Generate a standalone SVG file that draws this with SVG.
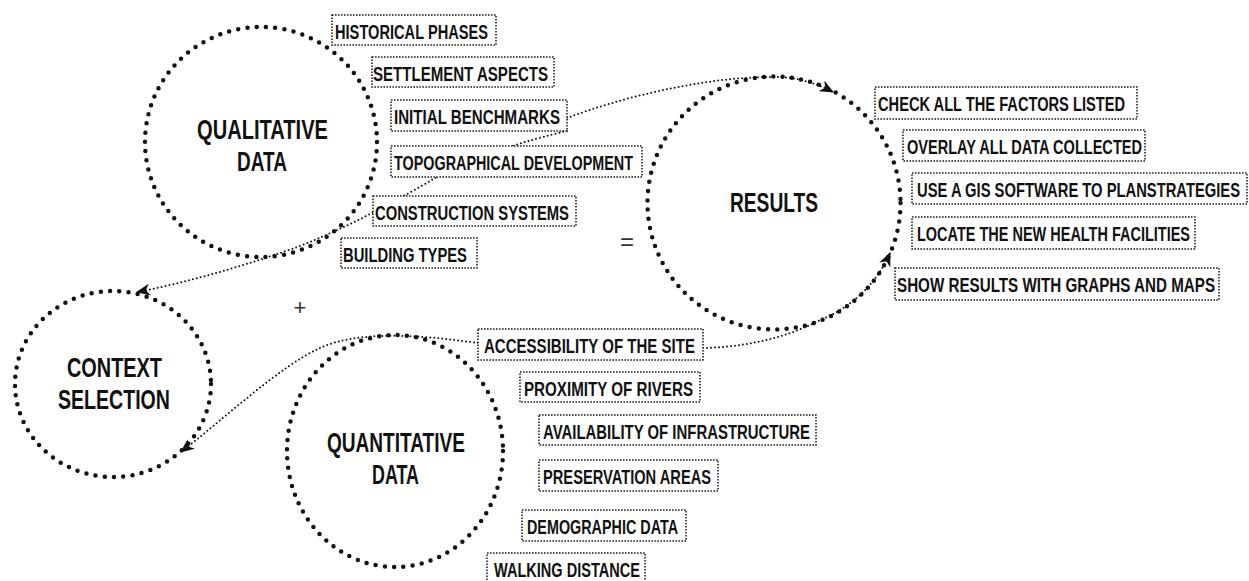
<svg xmlns="http://www.w3.org/2000/svg" width="1249" height="581" viewBox="0 0 1249 581">
<style>
.ring{fill:none;stroke:#111;stroke-width:4.5;stroke-linecap:round;stroke-dasharray:0 9.3}
.box{fill:#fff;stroke:#222;stroke-width:1.6;stroke-dasharray:1.6 1.4}
.lbl{font-family:'Liberation Sans','DejaVu Sans',sans-serif;font-weight:bold;font-size:20px;fill:#111}
.big{font-family:'Liberation Sans','DejaVu Sans',sans-serif;font-weight:bold;font-size:28px;fill:#111}
.conn{fill:none;stroke:#111;stroke-width:2;stroke-linecap:round;stroke-dasharray:0 4}
.sym{font-family:'Liberation Sans',sans-serif;fill:#333}
</style>
<defs>
<marker id="arr" markerUnits="userSpaceOnUse" markerWidth="16" markerHeight="12" refX="13" refY="6" orient="auto">
<path d="M0,0 L14,6 L0,12 L4,6 Z" fill="#111"/>
</marker>
</defs>
<g id="connectors">
<path class="conn" d="M567,131 C530,139 470,158 437,177 C400,198 360,222 300,246 C250,264 190,282 137,292" marker-end="url(#arr)"/>
<path class="conn" d="M567,118 C620,98 700,78 767,77 A126.5,126.5 0 0 1 833,92" marker-end="url(#arr)"/>
<path class="conn" d="M478,343 C420,335 360,330 320,348 C280,366 225,418 181,452" marker-end="url(#arr)"/>
<path class="conn" d="M703,348 C750,347 790,336 820,320 A126.5,126.5 0 0 0 890,253" marker-end="url(#arr)"/>
</g>
<g id="qualitative-data">
<ellipse class="ring" cx="261" cy="142" rx="116" ry="115"/>
<text class="big" transform="translate(197,139) scale(0.55,1)" textLength="238.2" lengthAdjust="spacingAndGlyphs">QUALITATIVE</text>
<text class="big" transform="translate(237,171) scale(0.55,1)" textLength="90.9" lengthAdjust="spacingAndGlyphs">DATA</text>
</g>
<g id="results">
<circle class="ring" cx="774" cy="203" r="126.5"/>
<text class="big" transform="translate(730,212) scale(0.55,1)" textLength="160" lengthAdjust="spacingAndGlyphs">RESULTS</text>
</g>
<g id="context-selection">
<ellipse class="ring" cx="113" cy="384" rx="98" ry="93"/>
<text class="big" transform="translate(67,377) scale(0.55,1)" textLength="172.7" lengthAdjust="spacingAndGlyphs">CONTEXT</text>
<text class="big" transform="translate(58,409) scale(0.55,1)" textLength="203.6" lengthAdjust="spacingAndGlyphs">SELECTION</text>
</g>
<g id="quantitative-data">
<ellipse class="ring" cx="395" cy="451" rx="108" ry="116"/>
<text class="big" transform="translate(327,452) scale(0.55,1)" textLength="250.9" lengthAdjust="spacingAndGlyphs">QUANTITATIVE</text>
<text class="big" transform="translate(372,484) scale(0.55,1)" textLength="85.5" lengthAdjust="spacingAndGlyphs">DATA</text>
</g>
<g id="plus"><text class="sym" x="300" y="315" font-size="22" text-anchor="middle">+</text></g>
<g id="equals"><text class="sym" x="627" y="250" font-size="24" text-anchor="middle">=</text></g>
<g id="l-historical"><rect class="box" x="332" y="15" width="164" height="30"/><text class="lbl" transform="translate(335,39) scale(0.63,1)" textLength="242.9" lengthAdjust="spacingAndGlyphs">HISTORICAL PHASES</text></g>
<g id="l-settlement"><rect class="box" x="372" y="57" width="182" height="30"/><text class="lbl" transform="translate(373,81) scale(0.63,1)" textLength="277.8" lengthAdjust="spacingAndGlyphs">SETTLEMENT ASPECTS</text></g>
<g id="l-initial"><rect class="box" x="391" y="100" width="176" height="31"/><text class="lbl" transform="translate(394,124) scale(0.63,1)" textLength="263.5" lengthAdjust="spacingAndGlyphs">INITIAL BENCHMARKS</text></g>
<g id="l-topographical"><rect class="box" x="391" y="146" width="251" height="31"/><text class="lbl" transform="translate(394,170) scale(0.63,1)" textLength="379.4" lengthAdjust="spacingAndGlyphs">TOPOGRAPHICAL DEVELOPMENT</text></g>
<g id="l-construction"><rect class="box" x="373" y="196" width="203" height="30"/><text class="lbl" transform="translate(375,220) scale(0.63,1)" textLength="307.9" lengthAdjust="spacingAndGlyphs">CONSTRUCTION SYSTEMS</text></g>
<g id="l-building"><rect class="box" x="341" y="238" width="136" height="30"/><text class="lbl" transform="translate(343,262) scale(0.63,1)" textLength="196.8" lengthAdjust="spacingAndGlyphs">BUILDING TYPES</text></g>
<g id="l-check"><rect class="box" x="875" y="87" width="262" height="32"/><text class="lbl" transform="translate(878,111) scale(0.63,1)" textLength="392.1" lengthAdjust="spacingAndGlyphs">CHECK ALL THE FACTORS LISTED</text></g>
<g id="l-overlay"><rect class="box" x="903" y="130" width="242" height="31"/><text class="lbl" transform="translate(907,154) scale(0.63,1)" textLength="373" lengthAdjust="spacingAndGlyphs">OVERLAY ALL DATA COLLECTED</text></g>
<g id="l-gis"><rect class="box" x="912" y="173" width="335" height="31"/><text class="lbl" transform="translate(917,197) scale(0.63,1)" textLength="512.7" lengthAdjust="spacingAndGlyphs">USE A GIS SOFTWARE TO PLANSTRATEGIES</text></g>
<g id="l-locate"><rect class="box" x="912" y="217" width="283" height="32"/><text class="lbl" transform="translate(917,241) scale(0.63,1)" textLength="433.3" lengthAdjust="spacingAndGlyphs">LOCATE THE NEW HEALTH FACILITIES</text></g>
<g id="l-show"><rect class="box" x="895" y="268" width="324" height="32"/><text class="lbl" transform="translate(897,292) scale(0.63,1)" textLength="504.8" lengthAdjust="spacingAndGlyphs">SHOW RESULTS WITH GRAPHS AND MAPS</text></g>
<g id="l-accessibility"><rect class="box" x="478" y="329" width="225" height="31"/><text class="lbl" transform="translate(484,353) scale(0.63,1)" textLength="334.9" lengthAdjust="spacingAndGlyphs">ACCESSIBILITY OF THE SITE</text></g>
<g id="l-proximity"><rect class="box" x="520" y="372" width="180" height="30"/><text class="lbl" transform="translate(524,396) scale(0.63,1)" textLength="268.3" lengthAdjust="spacingAndGlyphs">PROXIMITY OF RIVERS</text></g>
<g id="l-availability"><rect class="box" x="539" y="415" width="277" height="30"/><text class="lbl" transform="translate(543,439) scale(0.63,1)" textLength="423.8" lengthAdjust="spacingAndGlyphs">AVAILABILITY OF INFRASTRUCTURE</text></g>
<g id="l-preservation"><rect class="box" x="539" y="460" width="179" height="31"/><text class="lbl" transform="translate(543,484) scale(0.63,1)" textLength="266.7" lengthAdjust="spacingAndGlyphs">PRESERVATION AREAS</text></g>
<g id="l-demographic"><rect class="box" x="522" y="510" width="164" height="31"/><text class="lbl" transform="translate(527,534) scale(0.63,1)" textLength="239.7" lengthAdjust="spacingAndGlyphs">DEMOGRAPHIC DATA</text></g>
<g id="l-walking"><rect class="box" x="487" y="553" width="158" height="31"/><text class="lbl" transform="translate(494,577) scale(0.63,1)" textLength="231.7" lengthAdjust="spacingAndGlyphs">WALKING DISTANCE</text></g>
</svg>
